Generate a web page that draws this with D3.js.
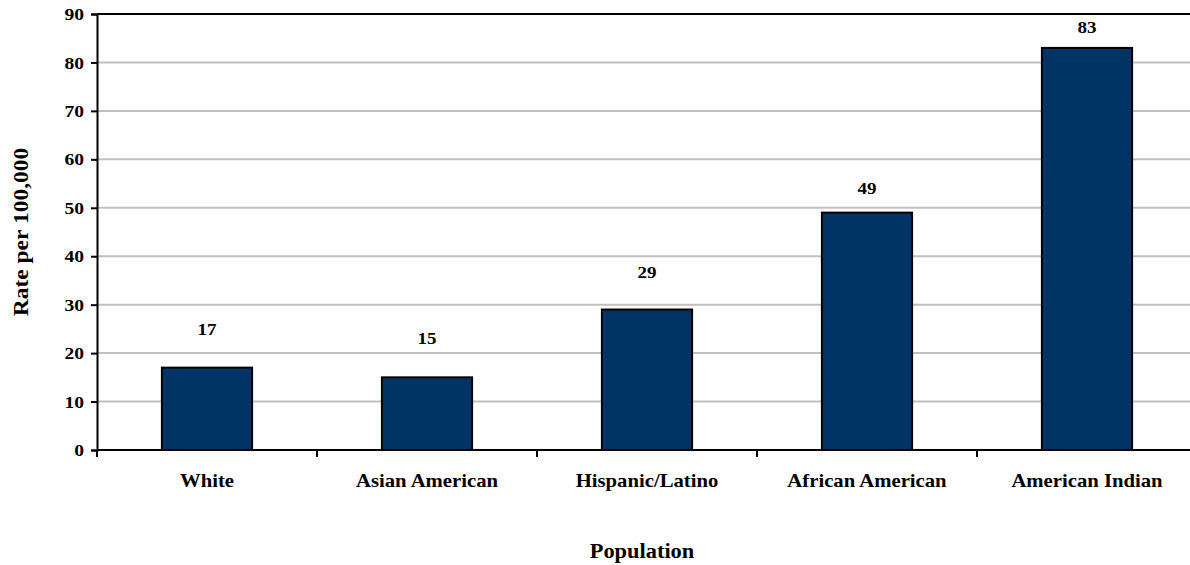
<!DOCTYPE html>
<html>
<head>
<meta charset="utf-8">
<script src="https://cdn.jsdelivr.net/npm/d3@7"></script>
<style>
  body { margin: 0; background: #fff; }
  text { font-family: "Liberation Serif", "Times New Roman", serif; font-weight: bold; fill: #000; }
</style>
</head>
<body>
<div id="chart"></div>
<script>
// data
var categories = ["White", "Asian American", "Hispanic/Latino", "African American", "American Indian"];
var rates = [17, 15, 29, 49, 83];
var yTicks = [0, 10, 20, 30, 40, 50, 60, 70, 80, 90];

var width = 1190, height = 565;
var margin = { left: 97, top: 14, bottom: 115 };
var plotW = 1100;              // plot runs past the right edge of the window
var plotH = height - margin.top - margin.bottom;
var stretch = 1.12;            // text in the original is a bit wide

var svg = d3.select("#chart").append("svg")
    .attr("width", width)
    .attr("height", height);

var x = d3.scaleBand()
    .domain(categories)
    .range([margin.left, margin.left + plotW])
    .paddingInner(0.59)
    .paddingOuter(0.295);

var y = d3.scaleLinear()
    .domain([0, 90])
    .range([margin.top + plotH, margin.top]);

function place(px, py) {
    return "translate(" + px + "," + py + ") scale(" + stretch + ",1)";
}

// gridlines
svg.selectAll(".grid")
    .data(yTicks.slice(1, -1))
    .enter().append("line")
    .attr("class", "grid")
    .attr("x1", margin.left)
    .attr("x2", margin.left + plotW)
    .attr("y1", function(d) { return y(d); })
    .attr("y2", function(d) { return y(d); })
    .attr("stroke", "#c0c0c0")
    .attr("stroke-width", 2);

// top border of plot area
svg.append("line")
    .attr("x1", margin.left).attr("x2", margin.left + plotW)
    .attr("y1", y(90)).attr("y2", y(90))
    .attr("stroke", "#000").attr("stroke-width", 2);

// bars
svg.selectAll(".bar")
    .data(rates)
    .enter().append("rect")
    .attr("class", "bar")
    .attr("x", function(d, i) { return x(categories[i]); })
    .attr("y", function(d) { return y(d); })
    .attr("width", x.bandwidth())
    .attr("height", function(d) { return y(0) - y(d); })
    .attr("fill", "#003366")
    .attr("stroke", "#000")
    .attr("stroke-width", 2);

// value labels (spacing above bars varies in the original)
var labelGap = [39, 39, 37, 25, 21];
svg.selectAll(".val")
    .data(rates)
    .enter().append("text")
    .attr("class", "val")
    .attr("transform", function(d, i) {
        return place(x(categories[i]) + x.bandwidth() / 2, y(d) - labelGap[i]);
    })
    .attr("dy", "0.35em")
    .attr("text-anchor", "middle")
    .style("font-size", "17px")
    .text(function(d) { return d; });

// y axis
var yAxis = svg.append("g")
    .attr("transform", "translate(" + margin.left + ",0)")
    .call(d3.axisLeft(y).tickValues(yTicks).tickSize(6).tickFormat(""));
yAxis.select(".domain").attr("stroke-width", 2);
yAxis.selectAll(".tick line").attr("stroke-width", 2);

svg.selectAll(".ylab")
    .data(yTicks)
    .enter().append("text")
    .attr("class", "ylab")
    .attr("transform", function(d) { return place(margin.left - 13, y(d)); })
    .attr("dy", "0.35em")
    .attr("text-anchor", "end")
    .style("font-size", "17.5px")
    .text(function(d) { return d; });

// x axis: ticks sit at category boundaries
var boundaries = d3.range(categories.length + 1).map(function(i) {
    return margin.left + i * plotW / categories.length;
});
svg.append("line")
    .attr("x1", margin.left).attr("x2", margin.left + plotW)
    .attr("y1", y(0)).attr("y2", y(0))
    .attr("stroke", "#000").attr("stroke-width", 2);
svg.selectAll(".xtick")
    .data(boundaries)
    .enter().append("line")
    .attr("x1", function(d) { return d; })
    .attr("x2", function(d) { return d; })
    .attr("y1", y(0))
    .attr("y2", y(0) + 7)
    .attr("stroke", "#000").attr("stroke-width", 2);
svg.selectAll(".xlab")
    .data(categories)
    .enter().append("text")
    .attr("class", "xlab")
    .attr("transform", function(d) { return place(x(d) + x.bandwidth() / 2, 481); })
    .attr("dy", "0.35em")
    .attr("text-anchor", "middle")
    .style("font-size", "18.5px")
    .text(function(d) { return d; });

// axis titles
svg.append("text")
    .attr("transform", "translate(21," + (margin.top + plotH / 2) + ") rotate(-90) scale(" + stretch + ",1)")
    .attr("dy", "0.35em")
    .attr("text-anchor", "middle")
    .style("font-size", "21px")
    .text("Rate per 100,000");

svg.append("text")
    .attr("transform", place(642, 551))
    .attr("dy", "0.35em")
    .attr("text-anchor", "middle")
    .style("font-size", "20px")
    .text("Population");
</script>
</body>
</html>
